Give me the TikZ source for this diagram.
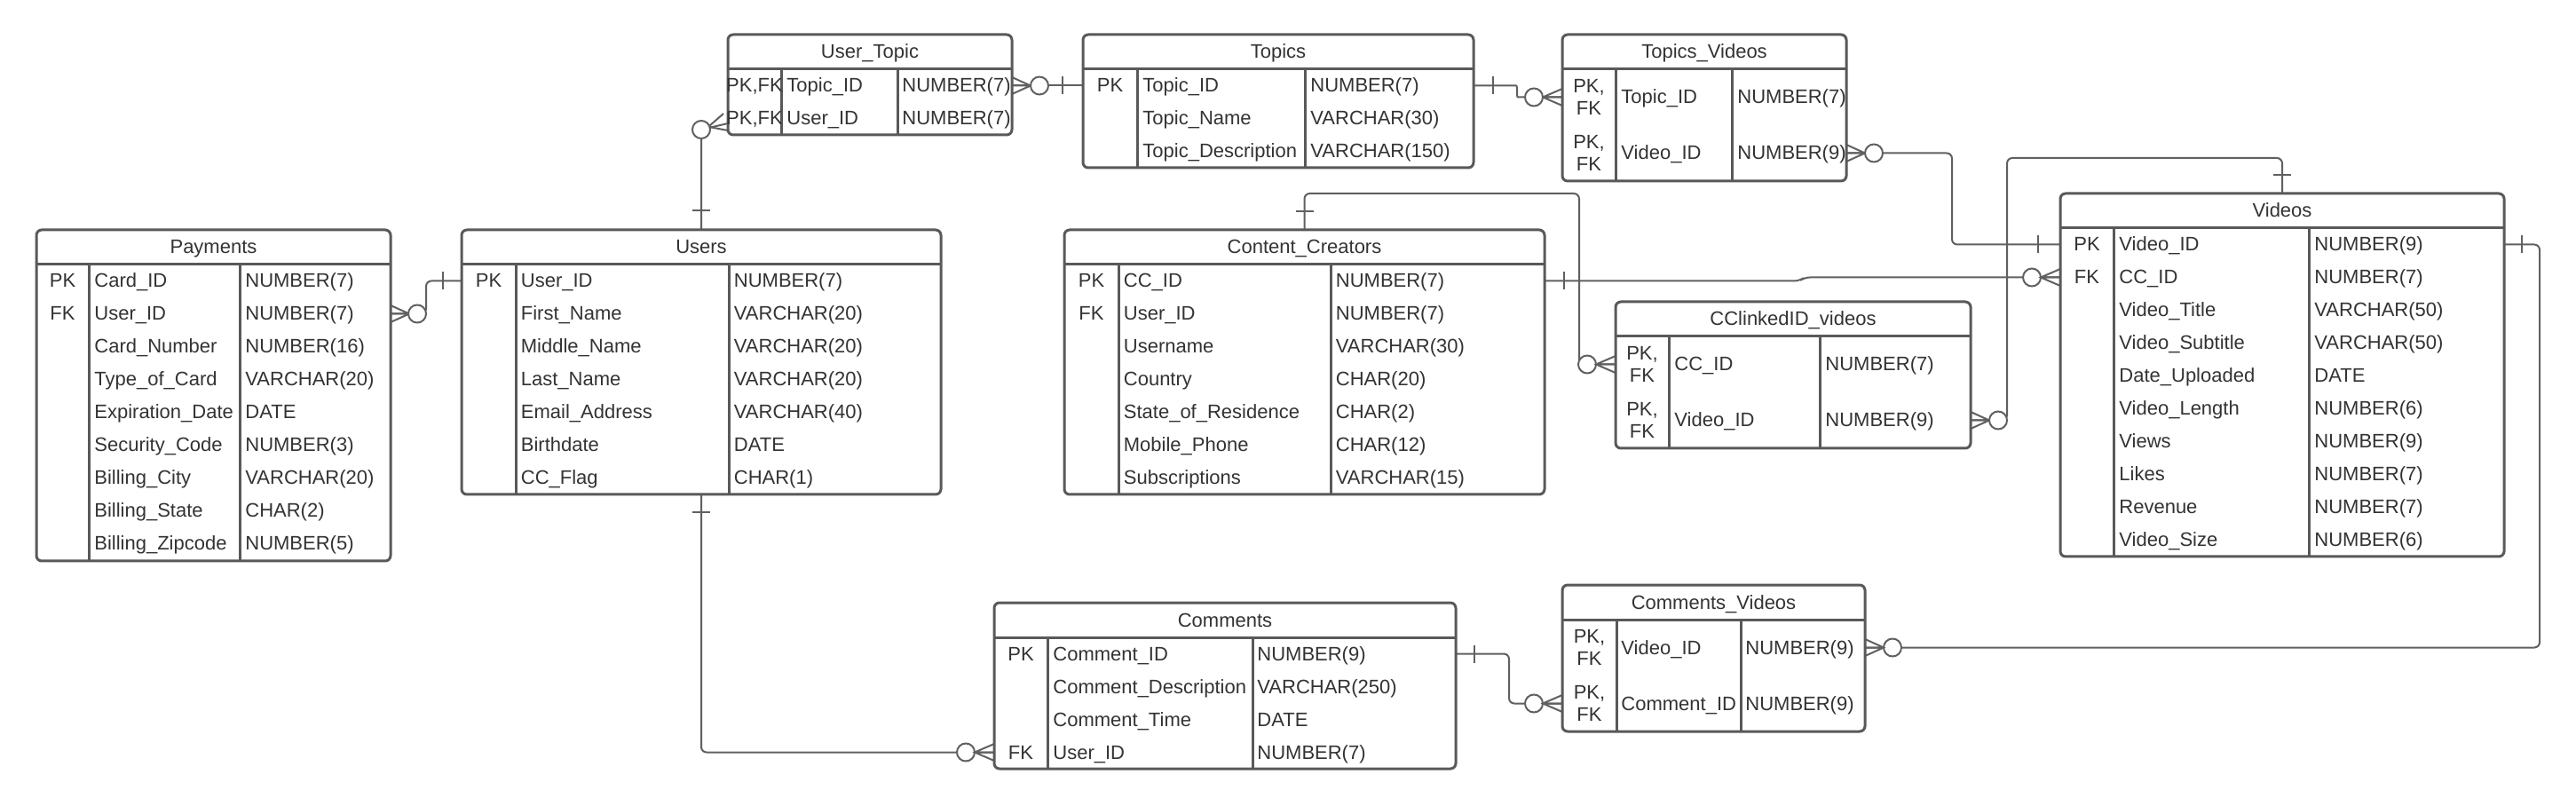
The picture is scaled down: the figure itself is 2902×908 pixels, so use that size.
\documentclass[tikz,border=0pt]{standalone}
\usepackage{fontspec}
\setmainfont{Liberation Sans}
\usetikzlibrary{fit}
\definecolor{framec}{HTML}{595959}
\definecolor{linec}{HTML}{606060}
\definecolor{textc}{HTML}{333333}
\tikzset{
  tbl/.style={draw=framec, line width=1.5pt, rounded corners=3pt, inner sep=0pt, rectangle},
  tline/.style={draw=framec, line width=1.5pt},
  txt/.style={inner sep=0pt, text=textc, font=\fontsize{11}{13}\selectfont},
  conn/.style={draw=linec, line width=1pt, rounded corners=3pt},
  mk/.style={draw=linec, line width=1pt},
}
% table: id x1 y1 x2 y2 c1 c2 title
\newcommand\ertab[8]{%
  \node[tbl, fit={({#2},{#3}) ({#4},{#5})}] (#1) {};
  \draw[tline] ({#2},{#3+39}) -- ({#4},{#3+39});
  \draw[tline] ({#6},{#3+39}) -- ({#6},{#5});
  \draw[tline] ({#7},{#3+39}) -- ({#7},{#5});
  \node[txt, anchor=base] (#1-title) at ({(#2+#4)/2},{#3+27}) {#8};
}
% row with key: id kx nx tx y key name type
\newcommand\errowk[8]{%
  \node[txt, anchor=base] (#1-k) at ({#2},{#5+7.5}) {#6};
  \node[txt, anchor=base west] (#1-n) at ({#3},{#5+7.5}) {#7};
  \node[txt, anchor=base west] (#1-t) at ({#4},{#5+7.5}) {#8};
}
% row without key: id nx tx y name type
\newcommand\errown[6]{%
  \node[txt, anchor=base west] (#1-n) at ({#2},{#4+7.5}) {#5};
  \node[txt, anchor=base west] (#1-t) at ({#3},{#4+7.5}) {#6};
}
% double-height PK, FK row: id kx nx tx y name type
\newcommand\errowpf[7]{%
  \node[txt, anchor=base] (#1-k1) at ({#2},{#5-5}) {PK,};
  \node[txt, anchor=base] (#1-k2) at ({#2},{#5+20}) {FK};
  \node[txt, anchor=base west] (#1-n) at ({#3},{#5+7.5}) {#6};
  \node[txt, anchor=base west] (#1-t) at ({#4},{#5+7.5}) {#7};
}
\newcommand\mkbarv[2]{\draw[mk] ({#1},{#2-10}) -- ({#1},{#2+10});}
\newcommand\mkbarh[2]{\draw[mk] ({#1-10},{#2}) -- ({#1+10},{#2});}
\newcommand\mkring[2]{\draw[mk, fill=white] ({#1},{#2}) circle (5pt);}
% crow: edge x, apex x, y
\newcommand\mkcrow[3]{\draw[mk] ({#1},{#3-9.5}) -- ({#2},{#3}) -- ({#1},{#3+9.5}) ({#1},{#3}) -- ({#2},{#3});}

\begin{document}
\begin{tikzpicture}[x=0.5pt, y=-0.5pt]
\fill[white] (0,0) rectangle (2902,908);
\useasboundingbox (0,0) rectangle (2902,908);

% ---------- connectors ----------
% Users -> Payments
\coordinate (pay-r) at (440,353.5);
\coordinate (usr-l) at (520,316.5);
\draw[conn] (usr-l) -- (480,316.5) -- (480,353.5) -- (pay-r);
\mkbarv{499}{316.5}
\mkcrow{440}{461}{353.5}
\mkring{470}{353.5}

% Users -> User_Topic
\coordinate (usr-t) at (790,259);
\coordinate (ut-l) at (820,139);
\draw[conn] (usr-t) -- (790,146) -- (ut-l);
\mkring{790}{146}
\draw[mk] (799,142) -- (815,128) (799,143) -- (820,147);
\mkbarh{790}{237}

% Topics -> User_Topic
\coordinate (ut-r) at (1140,96.5);
\coordinate (tp-l) at (1220,96.5);
\draw[conn] (ut-r) -- (tp-l);
\mkcrow{1140}{1161}{96.5}
\mkring{1171}{96.5}
\mkbarv{1197}{96.5}

% Topics -> Topics_Videos
\coordinate (tp-r) at (1660,96.5);
\coordinate (tv-l) at (1760,109.5);
\draw[conn] (tp-r) -- (1702,96.5) .. controls (1710,96.5) and (1708,109.5) .. (1716,109.5) -- (tv-l);
\mkbarv{1682}{96.5}
\mkcrow{1760}{1738}{109.5}
\mkring{1728}{109.5}

% Videos -> Topics_Videos
\coordinate (tv-r) at (2080,172.5);
\coordinate (vd-l1) at (2321,275.5);
\draw[conn] (tv-r) -- (2199,172.5) -- (2199,275.5) -- (vd-l1);
\mkcrow{2080}{2101}{172.5}
\mkring{2111}{172.5}
\mkbarv{2296}{275.5}

% Content_Creators -> CClinkedID_videos
\coordinate (cc-t) at (1469.5,259);
\coordinate (cl-l) at (1820,410.5);
\draw[conn] (cc-t) -- (1469.5,218) -- (1779,218) -- (1779,410.5) -- (cl-l);
\mkbarh{1469.5}{238}
\mkring{1788}{410.5}
\mkcrow{1820}{1798}{410.5}

% Content_Creators -> Videos
\coordinate (cc-r) at (1740,316.5);
\coordinate (vd-l2) at (2321,312.5);
\draw[conn] (cc-r) -- (2027,316.5) -- (2033,312.5) -- (vd-l2);
\mkbarv{1762}{316.5}
\mkring{2289}{312.5}
\mkcrow{2321}{2299}{312.5}

% Videos -> CClinkedID_videos
\coordinate (cl-r) at (2220,473.5);
\coordinate (vd-t) at (2571,218);
\draw[conn] (cl-r) -- (2261,473.5) -- (2261,178) -- (2571,178) -- (vd-t);
\mkcrow{2220}{2241}{473.5}
\mkring{2251}{473.5}
\mkbarh{2571}{197}

% Users -> Comments
\coordinate (usr-b) at (790,557);
\coordinate (cm-l) at (1120,847.5);
\draw[conn] (usr-b) -- (790,847.5) -- (cm-l);
\mkbarh{790}{577}
\mkring{1088}{847.5}
\mkcrow{1120}{1098}{847.5}

% Comments -> Comments_Videos
\coordinate (cm-r) at (1640,736.5);
\coordinate (cv-l) at (1760,792.5);
\draw[conn] (cm-r) -- (1700,736.5) -- (1700,792.5) -- (cv-l);
\mkbarv{1661}{736.5}
\mkring{1728}{792.5}
\mkcrow{1760}{1738}{792.5}

% Videos -> Comments_Videos
\coordinate (vd-r) at (2821,275.5);
\coordinate (cv-r) at (2101,729.5);
\draw[conn] (vd-r) -- (2861,275.5) -- (2861,729.5) -- (cv-r);
\mkbarv{2841}{275.5}
\mkring{2132}{729.5}
\mkcrow{2101}{2122}{729.5}

% ---------- tables ----------
% Payments
\ertab{pay}{41}{259}{440}{632}{100}{270}{Payments}
\errowk{pay1}{70.5}{106}{276}{316.5}{PK}{Card\_ID}{NUMBER(7)}
\errowk{pay2}{70.5}{106}{276}{353.5}{FK}{User\_ID}{NUMBER(7)}
\errown{pay3}{106}{276}{390.5}{Card\_Number}{NUMBER(16)}
\errown{pay4}{106}{276}{427.5}{Type\_of\_Card}{VARCHAR(20)}
\errown{pay5}{106}{276}{464.5}{Expiration\_Date}{DATE}
\errown{pay6}{106}{276}{501.5}{Security\_Code}{NUMBER(3)}
\errown{pay7}{106}{276}{538.5}{Billing\_City}{VARCHAR(20)}
\errown{pay8}{106}{276}{575.5}{Billing\_State}{CHAR(2)}
\errown{pay9}{106}{276}{612.5}{Billing\_Zipcode}{NUMBER(5)}

% Users
\ertab{usr}{520}{259}{1060}{557}{581}{821}{Users}
\errowk{usr1}{550.5}{586.5}{826.5}{316.5}{PK}{User\_ID}{NUMBER(7)}
\errown{usr2}{586.5}{826.5}{353.5}{First\_Name}{VARCHAR(20)}
\errown{usr3}{586.5}{826.5}{390.5}{Middle\_Name}{VARCHAR(20)}
\errown{usr4}{586.5}{826.5}{427.5}{Last\_Name}{VARCHAR(20)}
\errown{usr5}{586.5}{826.5}{464.5}{Email\_Address}{VARCHAR(40)}
\errown{usr6}{586.5}{826.5}{501.5}{Birthdate}{DATE}
\errown{usr7}{586.5}{826.5}{538.5}{CC\_Flag}{CHAR(1)}

% User_Topic
\ertab{ut}{820}{39}{1140}{152}{880}{1011}{User\_Topic}
\errowk{ut1}{850}{886}{1016}{96.5}{PK,FK}{Topic\_ID}{NUMBER(7)}
\errowk{ut2}{850}{886}{1016}{133.5}{PK,FK}{User\_ID}{NUMBER(7)}

% Topics
\ertab{tp}{1220}{39}{1660}{189}{1281}{1470}{Topics}
\errowk{tp1}{1250.5}{1287}{1476}{96.5}{PK}{Topic\_ID}{NUMBER(7)}
\errown{tp2}{1287}{1476}{133.5}{Topic\_Name}{VARCHAR(30)}
\errown{tp3}{1287}{1476}{170.5}{Topic\_Description}{VARCHAR(150)}

% Topics_Videos
\ertab{tv}{1760}{39}{2080}{204}{1820}{1951}{Topics\_Videos}
\errowpf{tv1}{1790}{1826}{1957}{109.5}{Topic\_ID}{NUMBER(7)}
\errowpf{tv2}{1790}{1826}{1957}{172.5}{Video\_ID}{NUMBER(9)}

% Content_Creators
\ertab{cc}{1199}{259}{1740}{557}{1260}{1499}{Content\_Creators}
\errowk{cc1}{1229.5}{1265.5}{1504.5}{316.5}{PK}{CC\_ID}{NUMBER(7)}
\errowk{cc2}{1229.5}{1265.5}{1504.5}{353.5}{FK}{User\_ID}{NUMBER(7)}
\errown{cc3}{1265.5}{1504.5}{390.5}{Username}{VARCHAR(30)}
\errown{cc4}{1265.5}{1504.5}{427.5}{Country}{CHAR(20)}
\errown{cc5}{1265.5}{1504.5}{464.5}{State\_of\_Residence}{CHAR(2)}
\errown{cc6}{1265.5}{1504.5}{501.5}{Mobile\_Phone}{CHAR(12)}
\errown{cc7}{1265.5}{1504.5}{538.5}{Subscriptions}{VARCHAR(15)}

% CClinkedID_videos
\ertab{cl}{1820}{340}{2220}{505}{1880}{2050}{CClinkedID\_videos}
\errowpf{cl1}{1850}{1886}{2056}{410.5}{CC\_ID}{NUMBER(7)}
\errowpf{cl2}{1850}{1886}{2056}{473.5}{Video\_ID}{NUMBER(9)}

% Videos
\ertab{vd}{2321}{218}{2821}{627}{2381}{2601}{Videos}
\errowk{vd1}{2351}{2387}{2607}{275.5}{PK}{Video\_ID}{NUMBER(9)}
\errowk{vd2}{2351}{2387}{2607}{312.5}{FK}{CC\_ID}{NUMBER(7)}
\errown{vd3}{2387}{2607}{349.5}{Video\_Title}{VARCHAR(50)}
\errown{vd4}{2387}{2607}{386.5}{Video\_Subtitle}{VARCHAR(50)}
\errown{vd5}{2387}{2607}{423.5}{Date\_Uploaded}{DATE}
\errown{vd6}{2387}{2607}{460.5}{Video\_Length}{NUMBER(6)}
\errown{vd7}{2387}{2607}{497.5}{Views}{NUMBER(9)}
\errown{vd8}{2387}{2607}{534.5}{Likes}{NUMBER(7)}
\errown{vd9}{2387}{2607}{571.5}{Revenue}{NUMBER(7)}
\errown{vd10}{2387}{2607}{608.5}{Video\_Size}{NUMBER(6)}

% Comments
\ertab{cm}{1120}{679}{1640}{866}{1180}{1411}{Comments}
\errowk{cm1}{1150}{1186}{1416}{736.5}{PK}{Comment\_ID}{NUMBER(9)}
\errown{cm2}{1186}{1416}{773.5}{Comment\_Description}{VARCHAR(250)}
\errown{cm3}{1186}{1416}{810.5}{Comment\_Time}{DATE}
\errowk{cm4}{1150}{1186}{1416}{847.5}{FK}{User\_ID}{NUMBER(7)}

% Comments_Videos
\ertab{cv}{1760}{659}{2101}{824}{1821}{1961}{Comments\_Videos}
\errowpf{cv1}{1790.5}{1826}{1966}{729.5}{Video\_ID}{NUMBER(9)}
\errowpf{cv2}{1790.5}{1826}{1966}{792.5}{Comment\_ID}{NUMBER(9)}
\end{tikzpicture}
\end{document}
